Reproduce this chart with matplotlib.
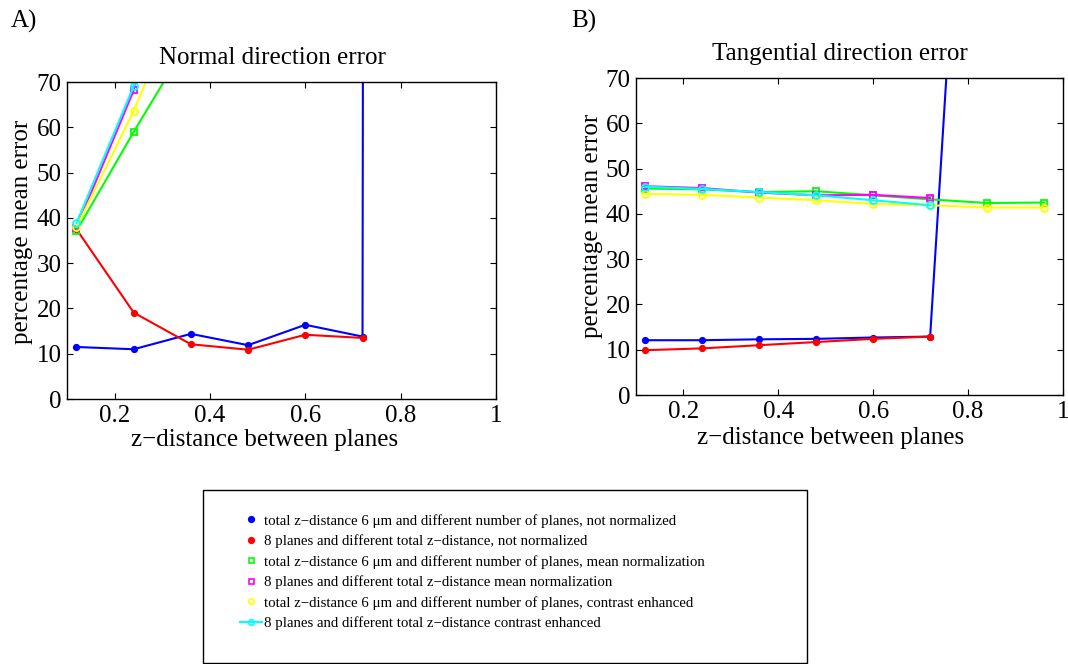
import matplotlib
matplotlib.use("Agg")
import matplotlib.pyplot as plt
from matplotlib.lines import Line2D
from matplotlib.patches import Rectangle

plt.rcParams['font.family'] = ['Liberation Serif', 'DejaVu Serif']

# distancia entre planos
z_full = [0.12, 0.24, 0.36, 0.48, 0.60, 0.72, 0.84, 0.96]
z_short = [0.12, 0.24, 0.36, 0.48, 0.60, 0.72]

# A) error en direccion normal
a_azul = [11.5, 11.0, 14.4, 11.9, 16.4, 13.8, 8500, 12000]
a_rojo = [37.5, 19.1, 12.1, 10.9, 14.2, 13.5]
a_verde = [37.1, 59.0, 80.0, 110, 140, 170, 200, 230]
a_magenta = [37.8, 68.2, 150, 200, 250, 300]
a_amarillo = [38.0, 63.6, 94.0, 130, 160, 190, 220, 250]
a_cian = [38.9, 69.1, 160, 210, 260, 310]

# B) error en direccion tangencial
b_azul = [12.1, 12.1, 12.3, 12.4, 12.7, 12.9, 214, 420]
b_rojo = [9.9, 10.3, 11.0, 11.7, 12.4, 12.9]
b_verde = [45.6, 45.4, 44.8, 45.0, 44.1, 43.2, 42.4, 42.5]
b_magenta = [46.1, 45.7, 44.7, 44.1, 44.2, 43.5]
b_amarillo = [44.4, 44.2, 43.6, 43.0, 42.2, 41.9, 41.4, 41.4]
b_cian = [46.0, 45.5, 44.8, 44.1, 43.0, 41.9]

etiquetas = [
    "total z\u2212distance 6 \u03bcm and different number of planes, not normalized",
    "8 planes and different total z\u2212distance, not normalized",
    "total z\u2212distance 6 \u03bcm and different number of planes, mean normalization",
    "8 planes and different total z\u2212distance mean normalization",
    "total z\u2212distance 6 \u03bcm and different number of planes, contrast enhanced",
    "8 planes and different total z\u2212distance contrast enhanced",
]

colores = ['#0000ff', '#ff0000', '#00ff00', '#ff00ff', '#ffff00', '#00ffff']
marcas = ['.', '.', 's', 's', 'o', 'o']
tam = [7, 7, 4.5, 4.5, 5, 5]


def graficar(ax, series, titulo, tx, xl, yl):
    for (x, y), c, m, s in zip(series, colores, marcas, tam):
        if m == '.':
            ax.plot(x, y, color=c, marker=m, markersize=s * 1.2, lw=1.5)
        else:
            ax.plot(x, y, color=c, marker=m, markersize=s, lw=1.5,
                    markerfacecolor='none', markeredgewidth=1.3)
    ax.set_xlim(0.1, 1)
    ax.set_ylim(0, 70)
    ax.set_xticks([0.2, 0.4, 0.6, 0.8, 1.0])
    ax.set_xticklabels(['0.2', '0.4', '0.6', '0.8', '1'])
    ax.set_yticks(range(0, 71, 10))
    ax.tick_params(direction='in', top=True, right=True, labelsize=18,
                   length=4, width=0.8, pad=4)
    for sp in ax.spines.values():
        sp.set_linewidth(1.0)
    ax.set_title(titulo, fontsize=18, pad=13, x=tx)
    ax.set_xlabel("z\u2212distance between planes", fontsize=18)
    ax.set_ylabel("percentage mean error", fontsize=18)
    ax.xaxis.set_label_coords(*xl)
    ax.yaxis.set_label_coords(*yl)


fig = plt.figure(figsize=(10.68, 6.64), dpi=100)

axA = fig.add_axes([0.0627, 0.399, 0.4017, 0.4774])
graficar(axA, [(z_full, a_azul), (z_short, a_rojo), (z_full, a_verde),
               (z_short, a_magenta), (z_full, a_amarillo), (z_short, a_cian)],
         "Normal direction error", 0.48, (0.460, -0.095), (-0.080, 0.527))

axB = fig.add_axes([0.5955, 0.4051, 0.3998, 0.4774])
graficar(axB, [(z_full, b_azul), (z_short, b_rojo), (z_full, b_verde),
               (z_short, b_magenta), (z_full, b_amarillo), (z_short, b_cian)],
         "Tangential direction error", 0.478, (0.4555, -0.101), (-0.077, 0.532))

fig.text(0.010, 0.968, "A)", fontsize=18, va='center')
fig.text(0.535, 0.968, "B)", fontsize=18, va='center')

# caja de la leyenda
fig.patches.append(Rectangle((0.190, 0.002), 0.5655, 0.26, transform=fig.transFigure,
                             fill=False, edgecolor='black', lw=1.0))

manejadores = []
for i, (c, m, s) in enumerate(zip(colores, marcas, tam)):
    ls = '-' if i == 5 else 'none'
    if m == '.':
        h = Line2D([], [], color=c, marker=m, markersize=s * 1.2, linestyle=ls)
    else:
        h = Line2D([], [], color=c, marker=m, markersize=s * 0.8, linestyle=ls,
                   markerfacecolor='none', markeredgewidth=1.2, lw=1.5)
    manejadores.append(h)

fig.legend(manejadores, etiquetas, loc='upper left', bbox_to_anchor=(0.219, 0.235),
           frameon=False, fontsize=10.7, handlelength=1.5, handletextpad=0.15,
           labelspacing=0.45, borderaxespad=0)

fig.savefig("out.png", dpi=100)
